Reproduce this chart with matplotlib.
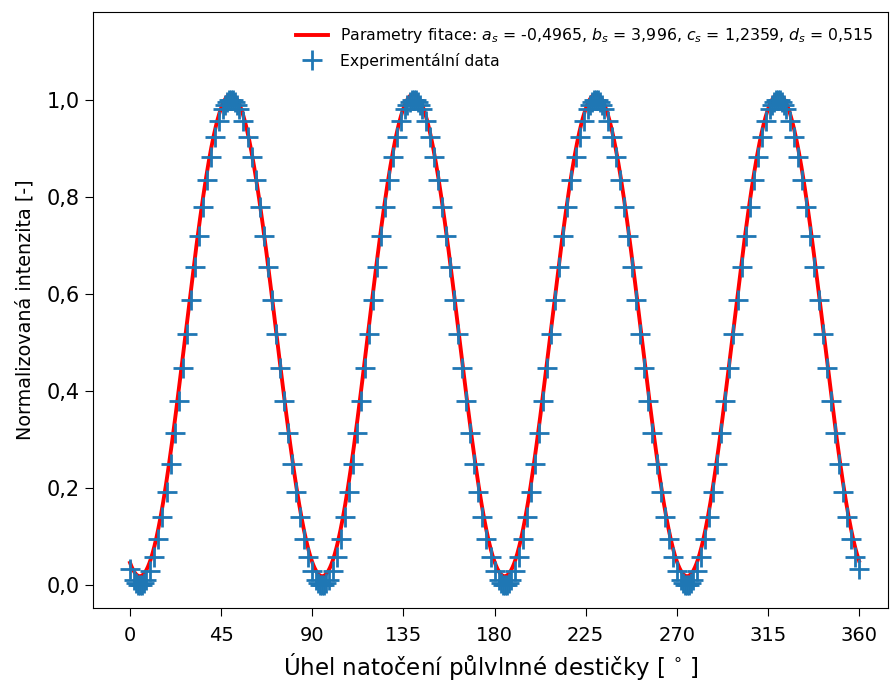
import numpy as np
import matplotlib.pyplot as plt

# uhel natoceni pulvlnne desticky [deg] a normalizovana intenzita
uhel = [0, 2, 3, 4, 5, 6, 7, 8, 10, 12, 14, 16, 18, 20, 22, 24, 26, 28,
        30, 32, 34, 36, 38, 40, 42, 44, 46, 47, 48, 49, 50, 51, 52, 53, 54, 56,
        58, 60, 62, 64, 66, 68, 70, 72, 74, 76, 78, 80, 82, 84, 86, 88,
        90, 92, 93, 94, 95, 96, 97, 98, 100, 102, 104, 106, 108, 110,
        112, 114, 116, 118, 120, 122, 124, 126, 128, 130, 132, 134, 136, 137,
        138, 139, 140, 141, 142, 143, 144, 146, 148, 150, 152, 154, 156, 158,
        160, 162, 164, 166, 168, 170, 172, 174, 176, 178,
        180, 182, 183, 184, 185, 186, 187, 188, 190, 192, 194, 196,
        198, 200, 202, 204, 206, 208, 210, 212, 214, 216, 218, 220, 222, 224,
        226, 227, 228, 229, 230, 231, 232, 233, 234, 236, 238, 240, 242, 244,
        246, 248, 250, 252, 254, 256, 258, 260, 262, 264, 266, 268,
        270, 272, 273, 274, 275, 276, 277, 278, 280, 282, 284, 286,
        288, 290, 292, 294, 296, 298, 300, 302, 304, 306, 308, 310, 312, 314,
        316, 317, 318, 319, 320, 321, 322, 323, 324, 326, 328, 330, 332, 334,
        336, 338, 340, 342, 344, 346, 348, 350, 352, 354, 356, 358, 360]

intenzita = [0.034, 0.011, 0.005, 0.001, 0.000, 0.001, 0.005, 0.011,
             0.030, 0.059, 0.095, 0.140, 0.192, 0.250, 0.313, 0.379,
             0.448, 0.517, 0.587, 0.655, 0.719, 0.780, 0.835, 0.883, 0.924,
             0.957, 0.981, 0.989, 0.995, 0.999, 1.000, 0.999, 0.995, 0.989,
             0.981, 0.957, 0.924, 0.883, 0.835, 0.780, 0.719, 0.655, 0.587,
             0.517, 0.448, 0.379, 0.313, 0.250, 0.192, 0.140, 0.095, 0.059,
             0.030, 0.011, 0.005, 0.001, 0.000, 0.001, 0.005, 0.011,
             0.030, 0.059, 0.095, 0.140, 0.192, 0.250, 0.313, 0.379,
             0.448, 0.517, 0.587, 0.655, 0.719, 0.780, 0.835, 0.883, 0.924,
             0.957, 0.981, 0.989, 0.995, 0.999, 1.000, 0.999, 0.995, 0.989,
             0.981, 0.957, 0.924, 0.883, 0.835, 0.780, 0.719, 0.655, 0.587,
             0.517, 0.448, 0.379, 0.313, 0.250, 0.192, 0.140, 0.095, 0.059,
             0.030, 0.011, 0.005, 0.001, 0.000, 0.001, 0.005, 0.011,
             0.030, 0.059, 0.095, 0.140, 0.192, 0.250, 0.313, 0.379,
             0.448, 0.517, 0.587, 0.655, 0.719, 0.780, 0.835, 0.883, 0.924,
             0.957, 0.981, 0.989, 0.995, 0.999, 1.000, 0.999, 0.995, 0.989,
             0.981, 0.957, 0.924, 0.883, 0.835, 0.780, 0.719, 0.655, 0.587,
             0.517, 0.448, 0.379, 0.313, 0.250, 0.192, 0.140, 0.095, 0.059,
             0.030, 0.011, 0.005, 0.001, 0.000, 0.001, 0.005, 0.011,
             0.030, 0.059, 0.095, 0.140, 0.192, 0.250, 0.313, 0.379,
             0.448, 0.517, 0.587, 0.655, 0.719, 0.780, 0.835, 0.883, 0.924,
             0.957, 0.981, 0.989, 0.995, 0.999, 1.000, 0.999, 0.995, 0.989,
             0.981, 0.957, 0.924, 0.883, 0.835, 0.780, 0.719, 0.655, 0.587,
             0.517, 0.448, 0.379, 0.313, 0.250, 0.192, 0.140, 0.095, 0.059,
             0.034]

# parametry fitace a*sin(b*x + c) + d
a_s, b_s, c_s, d_s = -0.4965, 3.996, 1.2359, 0.515

x_ticks = [0, 45, 90, 135, 180, 225, 270, 315, 360]
y_ticks = [0.0, 0.2, 0.4, 0.6, 0.8, 1.0]
y_labels = ["0,0", "0,2", "0,4", "0,6", "0,8", "1,0"]

fig = plt.figure(figsize=(8.9, 6.8), dpi=100)
ax = fig.add_axes([93/890, 72/680, 795/890, 596/680])

x_fit = np.linspace(0, 360, 2000)
y_fit = a_s*np.sin(b_s*np.radians(x_fit) + c_s) + d_s
ax.plot(x_fit, y_fit, color='red', lw=2.8,
        label=r"Parametry fitace: $a_s$ = -0,4965, $b_s$ = 3,996, $c_s$ = 1,2359, $d_s$ = 0,515")
ax.plot(uhel, intenzita, '+', color='#1f77b4', ms=15, mew=2.0,
        label="Experimentální data")

ax.set_xlim(-18.3, 374.3)
ax.set_ylim(-0.047, 1.181)

ax.set_xticks(x_ticks)
ax.set_xticklabels([str(t) for t in x_ticks], fontsize=14)
ax.set_yticks(y_ticks)
ax.set_yticklabels(y_labels, fontsize=15)
ax.tick_params(length=6)
ax.tick_params(axis='x', pad=7)

ax.set_xlabel(r"Úhel natočení půlvlnné destičky [$\,^\circ\,$]", fontsize=16.5,
              labelpad=4)
ax.set_ylabel("Normalizovaná intenzita [-]", fontsize=13.8, labelpad=9)

ax.legend(loc='upper right', frameon=False, fontsize=11.3)

fig.savefig("out.png", dpi=100)
